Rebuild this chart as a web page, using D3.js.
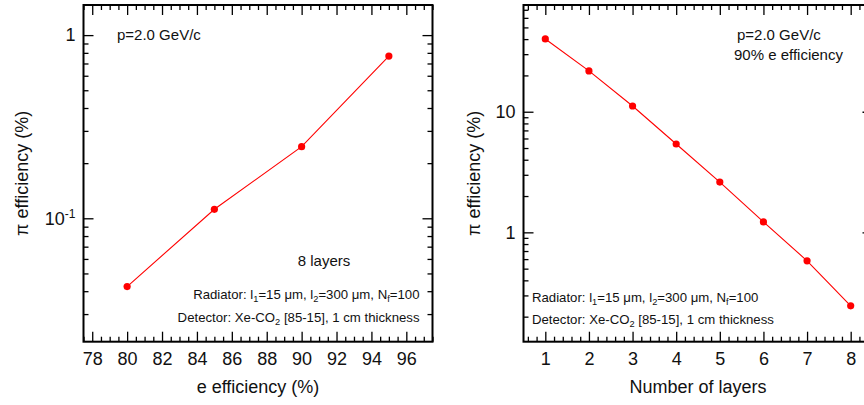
<!DOCTYPE html>
<html><head><meta charset="utf-8">
<script src="https://cdn.jsdelivr.net/npm/d3@7"></script>
<style>
body{margin:0;background:#fff;overflow:hidden}
svg{display:block}
text{font-family:"Liberation Sans",Arial,Helvetica,sans-serif;fill:#111}
</style>
</head><body>
<svg id="c" width="864" height="405"></svg>
<script>
// ---- data ----
const eEfficiency = [80, 85, 90, 95];
const piEffVsE = [0.0424, 0.112, 0.246, 0.768];
const nLayers = [1, 2, 3, 4, 5, 6, 7, 8];
const piEffVsLayers = [40.1, 21.8, 11.15, 5.40, 2.61, 1.22, 0.581, 0.246];
const leftXTicks = [78, 80, 82, 84, 86, 88, 90, 92, 94, 96];
const rightXTicks = [1, 2, 3, 4, 5, 6, 7, 8];
const leftYTicks = [0.1, 1];
const rightYTicks = [1, 10];
const leftXTitle = "e efficiency (%)";
const rightXTitle = "Number of layers";
const yTitle = "\u03c0 efficiency (%)";

const svg = d3.select('#c');
const RED = '#ff0000';

function logMinors(dom){
  const out = [];
  for (let d = -3; d <= 2; d++) for (let m = 2; m <= 9; m++) {
    const v = m * Math.pow(10, d);
    if (v > dom[0] && v < dom[1]) out.push(v);
  }
  return out;
}
function linMinors(dom, step, majors){
  const out = [];
  const start = Math.ceil(dom[0] / step - 1e-9) * step;
  for (let v = start; v < dom[1] + 1e-9; v += step) {
    const r = Math.round(v * 1000) / 1000;
    if (!majors.some(m => Math.abs(m - r) < 1e-6)) out.push(r);
  }
  return out;
}

function yLabel(sel){
  sel.each(function(d){
    const t = d3.select(this);
    const k = Math.round(Math.log10(d));
    if (k < 0) {
      t.text(null);
      t.append('tspan').text('10');
      t.append('tspan').attr('dy', -7).attr('font-size', 12).text(String(k));
    } else {
      t.text(d3.format('d')(d));
    }
  });
}

function axis(g, gen, tr, vals, size, withLabels, pad){
  const a = g.append('g').attr('transform', tr)
    .call(gen.tickValues(vals).tickSize(-size).tickPadding(pad || 3)
      .tickFormat(withLabels ? d3.format('d') : ''));
  a.select('.domain').remove();
  a.attr('font-family', null).attr('font-size', null);
  a.selectAll('line').attr('stroke', '#000').attr('stroke-width', 1.3);
  a.selectAll('text').attr('font-size', 18).attr('fill', '#111');
  return a;
}

function panel(cfg){
  const g = svg.append('g');
  const x = d3.scaleLinear().domain(cfg.xDom).range([cfg.x0, cfg.x1]);
  const y = d3.scaleLog().domain(cfg.yDom).range([cfg.y1, cfg.y0]);
  const xMin = linMinors(cfg.xDom, cfg.xMinorStep, cfg.xTicks);
  const yMin = logMinors(cfg.yDom);

  // x axes
  axis(g, d3.axisBottom(x), `translate(0,${cfg.y1})`, cfg.xTicks, 10, true, 11);
  axis(g, d3.axisBottom(x), `translate(0,${cfg.y1})`, xMin, 5, false);
  axis(g, d3.axisTop(x), `translate(0,${cfg.y0})`, cfg.xTicks, 10, false);
  axis(g, d3.axisTop(x), `translate(0,${cfg.y0})`, xMin, 5, false);
  // y axes
  const yl = axis(g, d3.axisLeft(y), `translate(${cfg.x0},0)`, cfg.yTicks, 10, true, 8);
  yl.selectAll('.tick text').call(yLabel);
  axis(g, d3.axisLeft(y), `translate(${cfg.x0},0)`, yMin, 5, false);
  axis(g, d3.axisRight(y), `translate(${cfg.x1},0)`, cfg.yTicks, 10, false);
  axis(g, d3.axisRight(y), `translate(${cfg.x1},0)`, yMin, 5, false);

  // frame
  g.append('rect').attr('x', cfg.x0).attr('y', cfg.y0)
    .attr('width', cfg.x1 - cfg.x0).attr('height', cfg.y1 - cfg.y0)
    .attr('fill', 'none').attr('stroke', '#000').attr('stroke-width', 2);

  // data
  const pts = cfg.xs.map((v, i) => [v, cfg.ys[i]]);
  g.append('path').datum(pts)
    .attr('d', d3.line().x(d => x(d[0])).y(d => y(d[1])))
    .attr('fill', 'none').attr('stroke', RED).attr('stroke-width', 1.1);
  g.selectAll('circle.pt').data(pts).join('circle').attr('class', 'pt')
    .attr('cx', d => x(d[0])).attr('cy', d => y(d[1])).attr('r', 3.6)
    .attr('fill', RED);

  // titles
  g.append('text').attr('x', (cfg.x0 + cfg.x1) / 2).attr('y', 393)
    .attr('text-anchor', 'middle').attr('font-size', 18).text(cfg.xTitle);
  g.append('text').attr('transform', `translate(${cfg.yTitleX},${(cfg.y0 + cfg.y1) / 2}) rotate(-90)`)
    .attr('text-anchor', 'middle').attr('font-size', 18).text(yTitle);
  return g;
}

function rich(g, xx, yy, anchor, size, parts){
  const t = g.append('text').attr('x', xx).attr('y', yy)
    .attr('text-anchor', anchor).attr('font-size', size);
  let shift = 0;
  parts.forEach(p => {
    const s = t.append('tspan').text(p[0]);
    if (p[1] === 'sub') { s.attr('font-size', size * 0.7).attr('dy', 3 - shift); shift = 3; }
    else { if (shift) s.attr('dy', -shift); shift = 0; }
  });
  return t;
}
const radiatorParts = [["Radiator: l"],["1","sub"],["=15 \u03bcm, l"],["2","sub"],["=300 \u03bcm, N"],["f","sub"],["=100"]];
const detectorParts = [["Detector: Xe-CO"],["2","sub"],[" [85-15], 1 cm thickness"]];

const L = panel({
  x0: 83.5, x1: 432.5, y0: 5, y1: 341.7,
  xDom: [77.5, 97.5], yDom: [0.0212, 1.46],
  xTicks: leftXTicks, xMinorStep: 0.5, yTicks: leftYTicks,
  xs: eEfficiency, ys: piEffVsE, xTitle: leftXTitle, yTitleX: 28
});
L.append('text').attr('x', 117).attr('y', 40).attr('font-size', 15).text('p=2.0 GeV/c');
L.append('text').attr('x', 324).attr('y', 266).attr('text-anchor', 'middle').attr('font-size', 15).text('8 layers');
rich(L, 419.5, 298.5, 'end', 13.2, radiatorParts);
rich(L, 419.5, 321.5, 'end', 13.2, detectorParts);

const R = panel({
  x0: 523.5, x1: 872.5, y0: 5, y1: 341.7,
  xDom: [0.5, 8.5], yDom: [0.124, 76.7],
  xTicks: rightXTicks, xMinorStep: 0.2, yTicks: rightYTicks,
  xs: nLayers, ys: piEffVsLayers, xTitle: rightXTitle, yTitleX: 480
});
R.append('text').attr('x', 737).attr('y', 40).attr('font-size', 15).text('p=2.0 GeV/c');
R.append('text').attr('x', 734).attr('y', 60).attr('font-size', 15).text('90% e efficiency');
rich(R, 532, 302, 'start', 13.2, radiatorParts);
rich(R, 532, 324, 'start', 13.2, detectorParts);
</script>
</body></html>
